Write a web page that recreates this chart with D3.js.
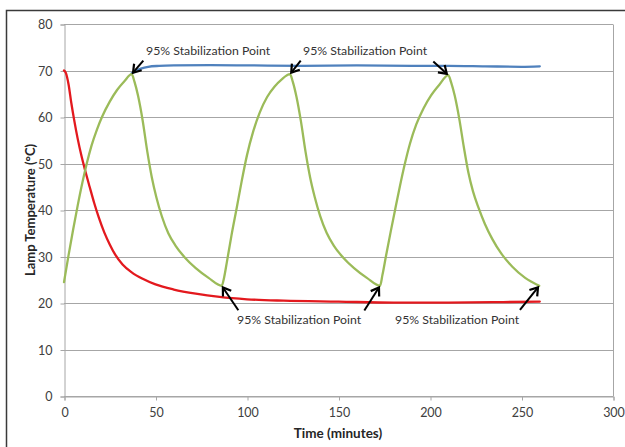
<!DOCTYPE html>
<html>
<head>
<meta charset="utf-8">
<script src="https://cdn.jsdelivr.net/npm/d3@7"></script>
<style>
  body { margin: 0; background: #fff; }
  svg { display: block; }
  text { font-family: Lato, "Liberation Sans", sans-serif; }
</style>
</head>
<body>
<svg id="chart" width="625" height="447"></svg>
<script>
// Lamp cooling (red), cycling (green) and steady (blue) temperature traces, minutes vs °C
const redTime = [0, 1, 2.5, 4, 5.5, 7.5, 9.5, 11.5, 14, 16.5, 19, 22, 25, 28, 32, 37, 43, 50, 60, 72, 85, 100, 120, 150, 180, 210, 240, 260];
const redTemp = [70, 69.5, 67, 63, 59.5, 55.3, 51.7, 48.6, 45, 41.5, 38.4, 35.2, 32.6, 30.4, 28.3, 26.6, 25.2, 24.0, 22.9, 22.0, 21.3, 20.8, 20.5, 20.3, 20.1, 20.1, 20.2, 20.3];

const greenTime = [
  0, 2.5, 5, 7.5, 10, 12.5, 15, 18, 21, 25, 29, 33, 37,
  38.5, 40.5, 43, 45.5, 48, 50.5, 53.5, 57, 61, 66, 72, 79, 86.2,
  87.5, 89, 91.5, 94.4, 97, 100, 103.4, 107, 111, 115, 119, 123.5,
  125, 127, 129.5, 132, 134.5, 137, 140, 143.5, 147.5, 152.5, 158.5, 165.5, 172.7,
  174, 176, 178.5, 181, 183.5, 186, 189, 192.5, 196.5, 200.5, 205, 210,
  211.5, 213.5, 216, 218.5, 221, 223.5, 226.5, 230, 234, 239, 245, 252, 259.7];
const greenTemp = [
  24.5, 30.3, 35.8, 41, 45.8, 50.1, 53.8, 57.3, 60.2, 63.3, 65.8, 67.7, 69.2,
  67.6, 64.5, 59.2, 52.6, 47, 42.7, 38.6, 35, 32.3, 29.8, 27.5, 25.4, 23.7,
  25.5, 28.8, 34.5, 40.5, 46, 51.8, 56.9, 61, 64.3, 66.5, 68.1, 69.2,
  67.6, 64.4, 59, 52.5, 47, 42.8, 38.7, 35.1, 32.3, 29.8, 27.5, 25.4, 23.7,
  26, 30.2, 35.3, 40.2, 45, 49.5, 54.2, 58.4, 61.9, 64.6, 66.9, 69,
  67.5, 64.6, 59.6, 53.5, 48, 44, 40.5, 37, 33.8, 30.6, 27.8, 25.4, 23.7];

const blueTime = [37, 39, 42, 46, 52, 60, 80, 100, 130, 160, 190, 210, 230, 250, 260];
const blueTemp = [69.4, 69.9, 70.4, 70.8, 71, 71.1, 71.15, 71.1, 71, 71.1, 71, 71, 70.9, 70.8, 70.9];

// 95% stabilization points on the cycling trace
const peakTimes = [37, 123.5, 210];
const troughTimes = [86.2, 172.7, 259.7];

const xTicks = [0, 50, 100, 150, 200, 250, 300];
const yTicks = [0, 10, 20, 30, 40, 50, 60, 70, 80];
const annotationText = "95% Stabilization Point";
const xTitle = "Time (minutes)";
const yTitle = "Lamp Temperature (°C)";

const svg = d3.select("#chart");
const plotLeft = 64, plotRight = 613, plotTop = 24, plotBottom = 396;

const x = d3.scaleLinear().domain([0, 300]).range([plotLeft, plotRight]);
const y = d3.scaleLinear().domain([0, 80]).range([plotBottom, plotTop]);

svg.append("rect").attr("width", 625).attr("height", 447).attr("fill", "#fff");

// outer chart frame
svg.append("rect")
  .attr("x", 6.5).attr("y", 10.5).attr("width", 660).attr("height", 480)
  .attr("fill", "none").attr("stroke", "#3a3a3a").attr("stroke-width", 1.5);

const gridColor = "#a6a6a6";

// horizontal gridlines
svg.append("g").selectAll("line").data(yTicks).join("line")
  .attr("x1", plotLeft).attr("x2", plotRight)
  .attr("y1", d => Math.round(y(d)) + 0.5).attr("y2", d => Math.round(y(d)) + 0.5)
  .attr("stroke", gridColor).attr("stroke-width", 1);

// right plot edge
svg.append("line")
  .attr("x1", plotRight + 0.5).attr("x2", plotRight + 0.5)
  .attr("y1", Math.round(y(80)) + 0.5).attr("y2", Math.round(y(0)) + 0.5)
  .attr("stroke", gridColor);

// y axis
const yAxis = svg.append("g")
  .attr("transform", `translate(${plotLeft + 0.5},0.5)`)
  .call(d3.axisLeft(y).tickValues(yTicks).tickSize(4).tickPadding(8).tickFormat(d3.format("d")));
yAxis.select(".domain").attr("stroke", gridColor);
yAxis.selectAll(".tick line").attr("stroke", gridColor);
yAxis.selectAll(".tick text").attr("fill", "#404040").attr("font-size", "12.5px")
  .attr("font-family", "Lato, sans-serif");

// x axis
const xAxis = svg.append("g")
  .attr("transform", `translate(0.5,${Math.round(y(0)) + 0.5})`)
  .call(d3.axisBottom(x).tickValues(xTicks).tickSize(4).tickPadding(8).tickFormat(d3.format("d")));
xAxis.select(".domain").attr("stroke", gridColor);
xAxis.selectAll(".tick line").attr("stroke", gridColor);
xAxis.selectAll(".tick text").attr("fill", "#404040").attr("font-size", "12.5px")
  .attr("font-family", "Lato, sans-serif");

// axis titles
svg.append("text")
  .attr("x", 338).attr("y", 433).attr("text-anchor", "middle").attr("dominant-baseline", "central")
  .attr("font-size", "13.5px").attr("font-weight", "bold").attr("fill", "#262626")
  .text(xTitle);
svg.append("text")
  .attr("transform", "translate(30,210) rotate(-90)")
  .attr("text-anchor", "middle").attr("dominant-baseline", "central")
  .attr("font-size", "13px").attr("font-weight", "bold").attr("fill", "#262626")
  .text(yTitle);

// traces
const line = d3.line().x(d => x(d[0])).y(d => y(d[1])).curve(d3.curveMonotoneX);
const series = [
  { time: redTime, temp: redTemp, color: "#e3191e" },
  { time: blueTime, temp: blueTemp, color: "#4f81bd" },
  { time: greenTime, temp: greenTemp, color: "#9bbb59" }
];
svg.append("g").selectAll("path").data(series).join("path")
  .attr("d", s => line(d3.zip(s.time, s.temp)))
  .attr("fill", "none").attr("stroke", s => s.color)
  .attr("stroke-width", 2.3).attr("stroke-linejoin", "round").attr("stroke-linecap", "round");

// annotation arrows and labels
svg.append("defs").append("marker")
  .attr("id", "head").attr("markerUnits", "userSpaceOnUse")
  .attr("viewBox", "-9 -7 11 14").attr("refX", 0).attr("refY", 0)
  .attr("markerWidth", 11).attr("markerHeight", 14).attr("orient", "auto")
  .append("path").attr("d", "M-7.5,-5 L0,0 L-7.5,5")
  .attr("fill", "none").attr("stroke", "#000").attr("stroke-width", 2.2)
  .attr("stroke-linejoin", "miter");

const tempAt = t => greenTemp[greenTime.indexOf(t)];
// tail offsets (px) from each stabilization point
const arrows = [
  { t: peakTimes[0], dx: 11.6, dy: -13.5 },
  { t: peakTimes[1], dx: 10.7, dy: -13.7 },
  { t: peakTimes[2], dx: -15, dy: -13.7 },
  { t: troughTimes[0], dx: 16.6, dy: 24.4 },
  { t: troughTimes[1], dx: -15.7, dy: 24.7 },
  { t: troughTimes[2], dx: -19.3, dy: 24 }
];
svg.append("g").selectAll("line").data(arrows).join("line")
  .each(function (a) {
    const px = x(a.t), py = y(tempAt(a.t));
    const len = Math.hypot(a.dx, a.dy);
    const ux = a.dx / len, uy = a.dy / len;
    d3.select(this)
      .attr("x1", px + a.dx).attr("y1", py + a.dy)
      .attr("x2", px + ux * 2).attr("y2", py + uy * 2);
  })
  .attr("stroke", "#000").attr("stroke-width", 2).attr("marker-end", "url(#head)");

const labels = [
  { x: 146, y: 50.5 },
  { x: 303, y: 50.5 },
  { x: 237, y: 319.5 },
  { x: 395, y: 319.5 }
];
svg.append("g").selectAll("text").data(labels).join("text")
  .attr("x", d => d.x).attr("y", d => d.y)
  .attr("dominant-baseline", "central")
  .attr("font-size", "12.3px").attr("fill", "#333")
  .text(annotationText);
</script>
</body>
</html>
